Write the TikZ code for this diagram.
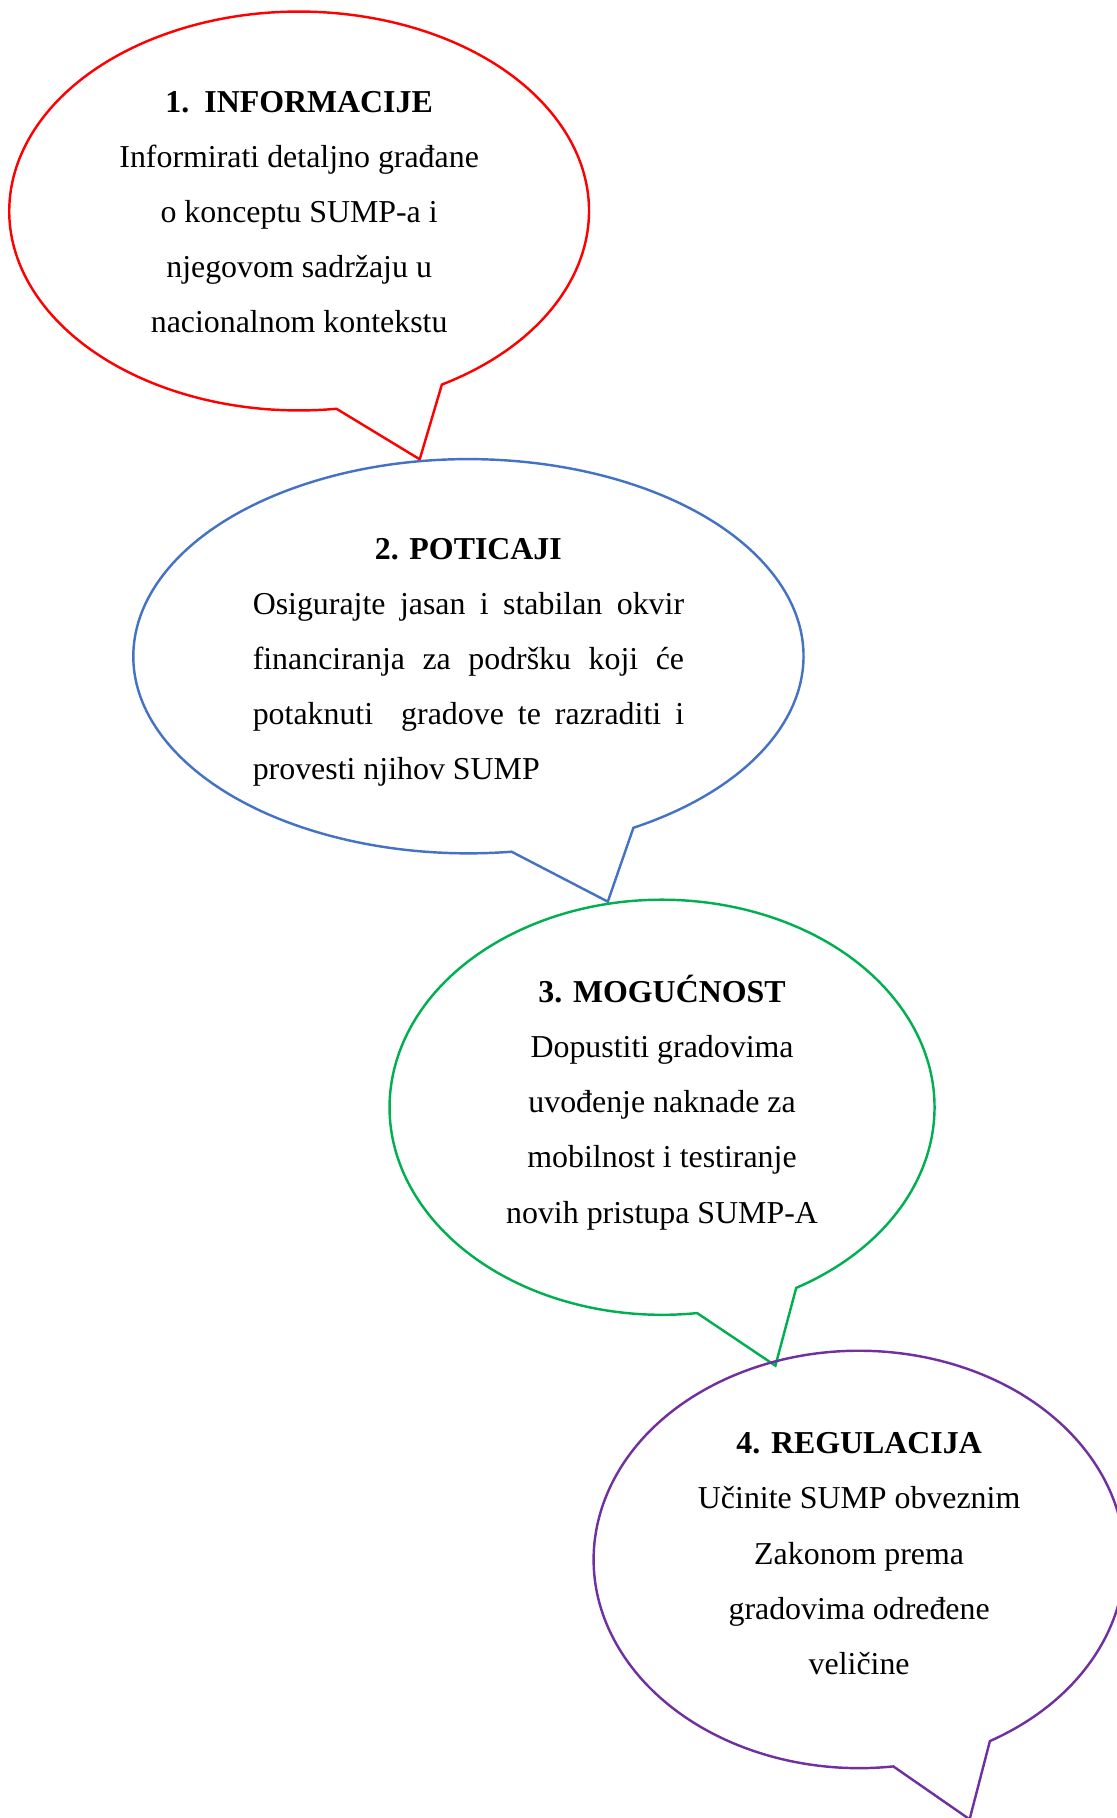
\documentclass[tikz,border=0pt]{standalone}
\usepackage{fontspec}
\setmainfont{Liberation Serif}
\usetikzlibrary{calc}
\definecolor{bred}{HTML}{FF0000}
\definecolor{bblue}{HTML}{4472C4}
\definecolor{bgreen}{HTML}{00B050}
\definecolor{bpurple}{HTML}{7030A0}
\tikzset{
  bubble/.style={line width=2.1pt, line join=miter},
  btext/.style={font=\fontsize{27.5}{47.5}\selectfont, align=center, inner sep=0pt}
}
% #1 colour, #2 cx, #3 cy, #4 rx, #5 ry, #6 name
\newcommand\mybubble[6]{%
  \coordinate (#6c) at (#2,#3);
  \coordinate (#6tip) at ($(#6c)+(0.416*#4pt,-1.245*#5pt)$);
  \coordinate (#6a) at ($(#6c)+(-60.5:#4pt and #5pt)$);
  \draw[bubble,#1] (#6a) arc[start angle=-60.5, end angle=277.4, x radius=#4pt, y radius=#5pt] -- (#6tip) -- cycle;
}
\begin{document}
\begin{tikzpicture}[x=1pt,y=1pt]
\useasboundingbox (0,0) rectangle (963,-1568);
\mybubble{bred}{258}{-182}{250}{172}{b1}
\mybubble{bblue}{404}{-566}{289}{170}{b2}
\mybubble{bgreen}{571}{-955}{235}{179}{b3}
\mybubble{bpurple}{741}{-1345}{229}{180}{b4}

\node[btext] (t1) at (258,-183) {\textbf{1.\hspace{13pt}INFORMACIJE}\\Informirati detaljno građane\\o konceptu SUMP-a i\\njegovom sadržaju u\\nacionalnom kontekstu};
\node[btext] (t2) at (404,-571) {\textbf{2. POTICAJI}\\
\makebox[372pt][s]{Osigurajte jasan i stabilan okvir}\\
\makebox[372pt][s]{financiranja za podršku koji će}\\
\makebox[372pt][s]{potaknuti\ \ gradove te razraditi i}\\
\makebox[372pt][l]{provesti njihov SUMP}};
\node[btext] (t3) at (571,-951) {\textbf{3. MOGUĆNOST}\\Dopustiti gradovima\\uvođenje naknade za\\mobilnost i testiranje\\novih pristupa SUMP-A};
\node[btext] (t4) at (741,-1340) {\textbf{4. REGULACIJA}\\Učinite SUMP obveznim\\Zakonom prema\\gradovima određene\\veličine};
\end{tikzpicture}
\end{document}
